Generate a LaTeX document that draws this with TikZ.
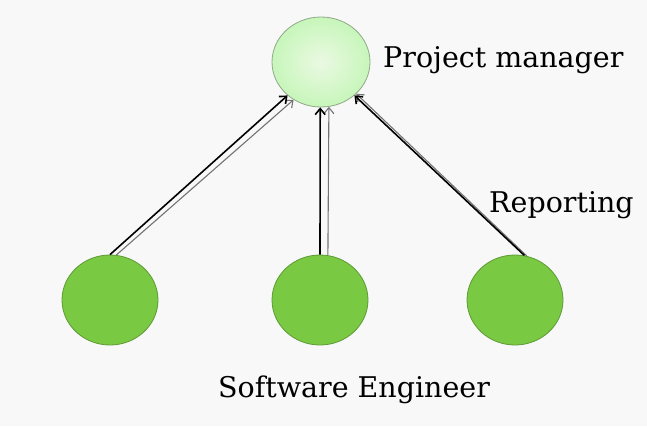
\documentclass[tikz,border=0pt]{standalone}
\usepackage{fontspec}
\setmainfont{DejaVu Serif}
\usepackage{tikz}
\usetikzlibrary{arrows.meta,backgrounds,calc,shapes.geometric}
\definecolor{pmgreen}{HTML}{DDF5CF}
\definecolor{pmborder}{HTML}{8FA987}
\definecolor{segreen}{HTML}{7AC943}
\definecolor{seborder}{HTML}{5E9A36}
\definecolor{bgcol}{HTML}{F8F8F8}

\begin{document}
\begin{tikzpicture}[x=1pt,y=-1pt,
  manager/.style={ellipse,draw=pmborder,line width=0.8pt,inner color=pmgreen!60!white,outer color=pmgreen!90!green,minimum width=98pt,minimum height=90pt,inner sep=0pt},
  engineer/.style={ellipse,draw=seborder,line width=0.8pt,fill=segreen,minimum width=96pt,minimum height=90pt,inner sep=0pt},
  report/.style={line width=1.6pt,black,-{Straight Barb[length=6pt,width=10pt]}},
  reportgray/.style={line width=1.1pt,black!55,-{Straight Barb[length=6pt,width=10pt]}},
  label/.style={font=\fontsize{28.5}{34}\selectfont,inner sep=0pt}]
\useasboundingbox[fill=bgcol] (0,0) rectangle (647,426);
\node[manager] (pm) at (321,62) {};
\node[engineer] (se1) at (110,300) {};
\node[engineer] (se2) at (320,300) {};
\node[engineer] (se3) at (515,300) {};
\node[label,anchor=base west] (pmlabel) at (383,67) {Project manager};
\node[label,anchor=base west] (replabel) at (489,212) {Reporting};
\node[label,anchor=base] (selabel) at (354,397) {Software Engineer};
\draw[reportgray] (se1.82) -- (pm.234);
\draw[report] (se1.90) -- (pm.225);
\draw[reportgray] (se2.80) -- (pm.280);
\draw[report] (se2.90) -- (pm.269);
\draw[reportgray] (se3.75) -- (pm.318);
\draw[report] (se3.78) -- (pm.315);
\end{tikzpicture}
\end{document}
